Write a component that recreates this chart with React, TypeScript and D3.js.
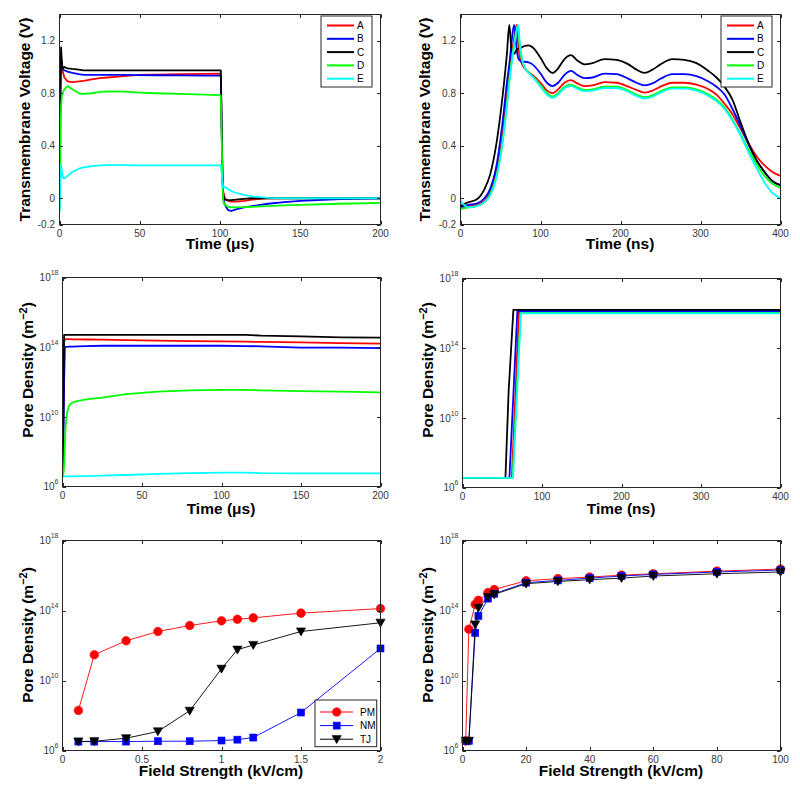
import React from "react";
import * as d3 from "d3";

const FONT = "'Liberation Sans', Arial, Helvetica, sans-serif";
const AXIS_COLOR = "#262626";
const TICK_TEXT = "#383838";

// ---------- shared series ----------
const seriesNames = ["A", "B", "C", "D", "E"];
const seriesColors = ["#ff0000", "#0000ff", "#000000", "#00ff00", "#00ffff"];

// ---------- Panel 1: transmembrane voltage, time in µs ----------
const timeUs = [0, 0.5, 1, 1.5, 2, 3, 5, 8, 12, 15, 20, 25, 30, 40, 50, 60, 75, 90, 100, 100.5, 101, 101.5, 102, 103, 105, 107, 110, 115, 120, 125, 130, 140, 150, 175, 200];
const voltUsA = [0, 0.7, 1.0, 1.04, 0.97, 0.92, 0.89, 0.885, 0.89, 0.895, 0.905, 0.915, 0.92, 0.93, 0.94, 0.942, 0.945, 0.948, 0.95, 0.95, 0.55, 0.2, 0.05, 0.0, -0.02, -0.025, -0.025, -0.02, -0.01, -0.005, 0, 0, 0, 0, 0];
const voltUsB = [0, 0.8, 1.08, 1.0, 0.98, 0.975, 0.965, 0.955, 0.945, 0.94, 0.94, 0.94, 0.94, 0.94, 0.938, 0.937, 0.936, 0.935, 0.935, 0.935, 0.55, 0.15, 0.0, -0.05, -0.09, -0.097, -0.085, -0.07, -0.06, -0.05, -0.042, -0.03, -0.02, -0.006, 0];
const voltUsC = [0, 0.9, 1.15, 1.02, 0.99, 1.0, 0.99, 0.985, 0.98, 0.975, 0.975, 0.975, 0.975, 0.975, 0.975, 0.975, 0.975, 0.975, 0.975, 0.975, 0.6, 0.2, 0.03, -0.01, -0.015, -0.015, -0.01, -0.005, 0, 0, 0, 0, 0, 0, 0];
const voltUsD = [-0.1, 0.3, 0.7, 0.78, 0.8, 0.83, 0.855, 0.83, 0.8, 0.795, 0.8, 0.81, 0.815, 0.812, 0.805, 0.8, 0.795, 0.79, 0.785, 0.78, 0.5, 0.15, -0.02, -0.05, -0.065, -0.07, -0.07, -0.067, -0.065, -0.062, -0.06, -0.055, -0.05, -0.042, -0.035];
const voltUsE = [-0.1, 0.1, 0.25, 0.2, 0.16, 0.15, 0.17, 0.2, 0.225, 0.235, 0.245, 0.25, 0.252, 0.252, 0.251, 0.25, 0.25, 0.25, 0.25, 0.25, 0.2, 0.12, 0.08, 0.085, 0.07, 0.055, 0.04, 0.025, 0.015, 0.008, 0.003, 0, 0, 0, 0];

// ---------- Panel 2: transmembrane voltage, time in ns ----------
const timeNs = [0, 10, 20, 30, 37, 45, 53, 58, 61, 64, 67, 70, 72, 74, 77, 80, 85, 90, 100, 108, 115, 122, 130, 138, 146, 155, 165, 180, 195, 210, 220, 230, 240, 250, 265, 280, 295, 310, 320, 330, 340, 350, 360, 370, 380, 390, 400];
const voltNsA = [-0.08, -0.06, -0.05, -0.02, 0.05, 0.2, 0.5, 0.78, 0.95, 1.1, 1.22, 1.32, 1.18, 1.08, 1.02, 0.99, 0.96, 0.94, 0.88, 0.82, 0.8, 0.83, 0.88, 0.9, 0.875, 0.855, 0.86, 0.885, 0.88, 0.85, 0.825, 0.805, 0.82, 0.85, 0.88, 0.88, 0.865, 0.83, 0.79, 0.72, 0.64, 0.53, 0.42, 0.32, 0.25, 0.2, 0.17];
const voltNsB = [-0.07, -0.05, -0.04, 0.0, 0.07, 0.25, 0.6, 0.88, 1.02, 1.2, 1.32, 1.15, 1.07, 1.05, 1.04, 1.04, 1.035, 1.02, 0.95, 0.88, 0.855, 0.88, 0.94, 0.97, 0.94, 0.915, 0.92, 0.95, 0.945, 0.91, 0.88, 0.86, 0.875, 0.91, 0.945, 0.945, 0.93, 0.89, 0.85, 0.79, 0.68, 0.55, 0.41, 0.29, 0.2, 0.13, 0.1];
const voltNsC = [-0.06, -0.03, -0.01, 0.07, 0.18, 0.42, 0.8, 1.1, 1.32, 1.12, 1.1, 1.13, 1.14, 1.14, 1.15, 1.16, 1.165, 1.15, 1.07, 0.99, 0.955, 0.99, 1.06, 1.09, 1.05, 1.02, 1.03, 1.06, 1.055, 1.02, 0.98, 0.955, 0.98, 1.02, 1.06, 1.055, 1.03, 0.97, 0.92, 0.85, 0.75, 0.58, 0.42, 0.29, 0.2, 0.13, 0.1];
const voltNsD = [-0.08, -0.07, -0.06, -0.03, 0.03, 0.17, 0.45, 0.72, 0.9, 1.05, 1.18, 1.28, 1.32, 1.15, 1.05, 1.0, 0.96, 0.93, 0.86, 0.8, 0.775, 0.8, 0.85, 0.865, 0.845, 0.825, 0.83, 0.85, 0.85, 0.82, 0.79, 0.77, 0.785, 0.815, 0.845, 0.845, 0.83, 0.79, 0.75, 0.69, 0.6, 0.49, 0.37, 0.26, 0.17, 0.11, 0.08];
const voltNsE = [-0.02, -0.07, -0.06, -0.03, 0.02, 0.16, 0.44, 0.7, 0.88, 1.03, 1.16, 1.27, 1.32, 1.2, 1.06, 1.0, 0.955, 0.925, 0.85, 0.79, 0.765, 0.79, 0.84, 0.855, 0.835, 0.815, 0.82, 0.84, 0.84, 0.81, 0.78, 0.76, 0.775, 0.805, 0.835, 0.835, 0.82, 0.78, 0.74, 0.68, 0.59, 0.48, 0.35, 0.23, 0.12, 0.04, 0.0];

// ---------- Panel 3: pore density (log10 m^-2), time in µs ----------
const timeUsPore = [0, 0.5, 1, 1.5, 2, 3, 4, 5, 7, 10, 15, 25, 40, 60, 80, 100, 115, 125, 150, 175, 200];
const poreUsA = [6.55, 9, 14.3, 14.46, 14.46, 14.46, 14.46, 14.46, 14.45, 14.45, 14.44, 14.43, 14.4, 14.37, 14.35, 14.33, 14.32, 14.3, 14.27, 14.23, 14.2];
const poreUsB = [6.55, 8, 12, 14.0, 14.02, 14.02, 14.03, 14.03, 14.03, 14.04, 14.06, 14.08, 14.08, 14.08, 14.08, 14.08, 14.06, 14.05, 13.97, 13.97, 13.95];
const poreUsC = [6.55, 10, 14.71, 14.71, 14.71, 14.71, 14.71, 14.71, 14.71, 14.71, 14.71, 14.71, 14.71, 14.71, 14.71, 14.71, 14.71, 14.66, 14.62, 14.56, 14.55];
const poreUsD = [6.55, 6.6, 7.2, 8.5, 9.5, 10.3, 10.6, 10.75, 10.85, 10.92, 11.0, 11.1, 11.3, 11.45, 11.52, 11.55, 11.55, 11.52, 11.48, 11.45, 11.4];
const poreUsE = [6.58, 6.58, 6.58, 6.58, 6.58, 6.58, 6.58, 6.58, 6.58, 6.59, 6.6, 6.62, 6.66, 6.72, 6.77, 6.8, 6.8, 6.77, 6.75, 6.75, 6.75];

// ---------- Panel 4: pore density (log10 m^-2), time in ns ----------
const timeNsPoreA = [0, 62, 71, 400];
const timeNsPoreB = [0, 59, 69, 400];
const timeNsPoreC = [0, 54, 58, 64, 400];
const timeNsPoreD = [0, 63, 73, 400];
const timeNsPoreE = [0, 63.5, 73.5, 400];
const poreNsA = [6.55, 6.55, 16.05, 16.05];
const poreNsB = [6.55, 6.55, 16.12, 16.12];
const poreNsC = [6.55, 6.55, 11.5, 16.2, 16.2];
const poreNsD = [6.55, 6.55, 16.03, 16.03];
const poreNsE = [6.55, 6.55, 16.0, 16.0];

// ---------- Panel 5: pore density vs low field strength ----------
const markerNames = ["PM", "NM", "TJ"];
const markerColors = ["#ff0000", "#0000ff", "#000000"];
const fieldLow = [0.1, 0.2, 0.4, 0.6, 0.8, 1.0, 1.1, 1.2, 1.5, 2.0];
const poreLowPM = [8.29, 11.47, 12.27, 12.8, 13.14, 13.41, 13.5, 13.58, 13.85, 14.11];
const poreLowNM = [6.51, 6.51, 6.51, 6.53, 6.53, 6.57, 6.62, 6.74, 8.17, 11.83];
const poreLowTJ = [6.51, 6.53, 6.7, 7.09, 8.27, 10.67, 11.76, 12.03, 12.8, 13.3];

// ---------- Panel 6: pore density vs high field strength ----------
const fieldHigh = [1, 2, 4, 5, 8, 10, 20, 30, 40, 50, 60, 80, 100];
const poreHighPM = [6.55, 12.93, 14.35, 14.58, 15.02, 15.2, 15.7, 15.82, 15.91, 16.02, 16.1, 16.25, 16.37];
const poreHighNM = [6.55, 6.55, 12.72, 13.69, 14.68, 14.96, 15.59, 15.72, 15.85, 15.97, 16.06, 16.2, 16.31];
const poreHighTJ = [6.55, 6.55, 13.2, 14.15, 14.77, 14.92, 15.53, 15.66, 15.76, 15.85, 15.97, 16.1, 16.2];

// ---------- ticks ----------
const voltTicks = [-0.2, 0, 0.4, 0.8, 1.2];
const usTicks = [0, 50, 100, 150, 200];
const nsTicks = [0, 100, 200, 300, 400];
const logTicks = [1e6, 1e10, 1e14, 1e18];
const lowFieldTicks = [0, 0.5, 1, 1.5, 2];
const highFieldTicks = [0, 20, 40, 60, 80, 100];

type Box = { l: number; r: number; t: number; b: number };

const boxes: Box[] = [
  { l: 59.5, r: 380.5, t: 14.5, b: 224.5 },
  { l: 460.5, r: 780.5, t: 14.5, b: 224.5 },
  { l: 62.5, r: 380.5, t: 277.5, b: 486.5 },
  { l: 462.5, r: 780.5, t: 278.5, b: 487.5 },
  { l: 62.5, r: 380.5, t: 540.5, b: 750.5 },
  { l: 462.5, r: 780.5, t: 540.5, b: 750.5 },
];

const TL = 3.5;

function fmtNum(v: number) {
  return String(v);
}

function Frame(props: {
  box: Box;
  x: any;
  y: any;
  xTicks: number[];
  yTicks: number[];
  yLog?: boolean;
}) {
  const { box, x, y, xTicks, yTicks, yLog } = props;
  return (
    <g fontFamily={FONT}>
      <rect x={box.l} y={box.t} width={box.r - box.l} height={box.b - box.t} fill="none" stroke={AXIS_COLOR} strokeWidth={1} />
      {xTicks.map((t) => {
        const px = Math.round(x(t)) + 0.5;
        return (
          <g key={"x" + t}>
            <line x1={px} x2={px} y1={box.b} y2={box.b - TL} stroke={AXIS_COLOR} />
            <line x1={px} x2={px} y1={box.t} y2={box.t + TL} stroke={AXIS_COLOR} />
            <text x={x(t)} y={box.b + 12.5} textAnchor="middle" fontSize={10} fill={TICK_TEXT}>
              {fmtNum(t)}
            </text>
          </g>
        );
      })}
      {yTicks.map((t) => {
        const py = Math.round(y(t)) + 0.5;
        return (
          <g key={"y" + t}>
            <line x1={box.l} x2={box.l + TL} y1={py} y2={py} stroke={AXIS_COLOR} />
            <line x1={box.r} x2={box.r - TL} y1={py} y2={py} stroke={AXIS_COLOR} />
            {yLog ? (
              <text x={box.l - 4} y={y(t) + 3.8} textAnchor="end" fontSize={10} fill={TICK_TEXT}>
                10
                <tspan dy={-6} fontSize={7}>
                  {Math.round(Math.log10(t))}
                </tspan>
              </text>
            ) : (
              <text x={box.l - 4.5} y={y(t) + 3.6} textAnchor="end" fontSize={10} fill={TICK_TEXT}>
                {fmtNum(t)}
              </text>
            )}
          </g>
        );
      })}
    </g>
  );
}

function YLabel(props: { cx: number; cy: number; pore?: boolean; text?: string }) {
  const { cx, cy, pore, text } = props;
  return (
    <text
      transform={`translate(${cx},${cy}) rotate(-90)`}
      dy="0.35em"
      textAnchor="middle"
      fontFamily={FONT}
      fontWeight="bold"
      fontSize={15.5}
      fill="#000"
    >
      {pore ? (
        <>
          Pore Density (m
          <tspan dy={-6} fontSize={11}>
            −2
          </tspan>
          <tspan dy={6}>)</tspan>
        </>
      ) : (
        text
      )}
    </text>
  );
}

function XLabel(props: { cx: number; y: number; text: string }) {
  return (
    <text x={props.cx} y={props.y} textAnchor="middle" fontFamily={FONT} fontWeight="bold" fontSize={15.5} fill="#000">
      {props.text}
    </text>
  );
}

function LineLegend(props: { box: Box }) {
  const lx = props.box.r - 59.5;
  const ly = props.box.t + 1.5;
  return (
    <g fontFamily={FONT}>
      <rect x={lx} y={ly} width={51} height={71} fill="#fff" stroke={AXIS_COLOR} strokeWidth={1} />
      {seriesNames.map((n, i) => {
        const yy = ly + 9.5 + i * 13.3;
        return (
          <g key={n}>
            <line x1={lx + 6} x2={lx + 33} y1={yy} y2={yy} stroke={seriesColors[i]} strokeWidth={2} />
            <text x={lx + 36} y={yy + 3.6} fontSize={10} fill="#000">
              {n}
            </text>
          </g>
        );
      })}
    </g>
  );
}

function Marker(props: { kind: number; cx: number; cy: number; color: string }) {
  const { kind, cx, cy, color } = props;
  if (kind === 0) return <circle cx={cx} cy={cy} r={4.3} fill={color} stroke={color} strokeWidth={0.6} />;
  if (kind === 1) return <rect x={cx - 3.5} y={cy - 3.5} width={7} height={7} fill={color} stroke={color} strokeWidth={0.6} />;
  return (
    <path
      d={`M${cx - 4.6},${cy - 3.6} L${cx + 4.6},${cy - 3.6} L${cx},${cy + 4.4} Z`}
      fill={color}
      stroke={color}
      strokeWidth={0.6}
    />
  );
}

function MarkerLegend(props: { box: Box }) {
  const lx = props.box.r - 65.5;
  const ly = props.box.b - 50.5;
  return (
    <g fontFamily={FONT}>
      <rect x={lx} y={ly} width={61.7} height={46.7} fill="#fff" stroke={AXIS_COLOR} strokeWidth={1} />
      {markerNames.map((n, i) => {
        const yy = ly + 12 + i * 13.6;
        return (
          <g key={n}>
            <line x1={lx + 5} x2={lx + 38} y1={yy} y2={yy} stroke={markerColors[i]} strokeWidth={1} />
            <Marker kind={i} cx={lx + 21.7} cy={yy} color={markerColors[i]} />
            <text x={lx + 45} y={yy + 3.6} fontSize={10} fill="#000">
              {n}
            </text>
          </g>
        );
      })}
    </g>
  );
}

function ClipDef(props: { id: string; box: Box }) {
  const b = props.box;
  return (
    <clipPath id={props.id}>
      <rect x={b.l} y={b.t} width={b.r - b.l} height={b.b - b.t} />
    </clipPath>
  );
}

export default function App() {
  // Panel 1
  const b1 = boxes[0];
  const x1 = d3.scaleLinear().domain([0, 200]).range([b1.l, b1.r]);
  const y1 = d3.scaleLinear().domain([-0.2, 1.4]).range([b1.b, b1.t]);
  const p1Series = [voltUsA, voltUsB, voltUsC, voltUsD, voltUsE];
  const line1 = d3.line<[number, number]>().x((d) => x1(d[0])).y((d) => y1(d[1])).curve(d3.curveLinear);

  // Panel 2
  const b2 = boxes[1];
  const x2 = d3.scaleLinear().domain([0, 400]).range([b2.l, b2.r]);
  const y2 = d3.scaleLinear().domain([-0.2, 1.4]).range([b2.b, b2.t]);
  const p2Series = [voltNsA, voltNsB, voltNsC, voltNsD, voltNsE];
  const line2 = d3.line<[number, number]>().x((d) => x2(d[0])).y((d) => y2(d[1])).curve(d3.curveMonotoneX);

  // Panel 3
  const b3 = boxes[2];
  const x3 = d3.scaleLinear().domain([0, 200]).range([b3.l, b3.r]);
  const y3 = d3.scaleLog().domain([1e6, 1e18]).range([b3.b, b3.t]);
  const p3Series = [poreUsA, poreUsB, poreUsC, poreUsD, poreUsE];
  const line3 = d3.line<[number, number]>().x((d) => x3(d[0])).y((d) => y3(Math.pow(10, d[1])));

  // Panel 4
  const b4 = boxes[3];
  const x4 = d3.scaleLinear().domain([0, 400]).range([b4.l, b4.r]);
  const y4 = d3.scaleLog().domain([1e6, 1e18]).range([b4.b, b4.t]);
  const p4Times = [timeNsPoreA, timeNsPoreB, timeNsPoreC, timeNsPoreD, timeNsPoreE];
  const p4Series = [poreNsA, poreNsB, poreNsC, poreNsD, poreNsE];
  const line4 = d3.line<[number, number]>().x((d) => x4(d[0])).y((d) => y4(Math.pow(10, d[1])));

  // Panel 5
  const b5 = boxes[4];
  const x5 = d3.scaleLinear().domain([0, 2]).range([b5.l, b5.r]);
  const y5 = d3.scaleLog().domain([1e6, 1e18]).range([b5.b, b5.t]);
  const p5Series = [poreLowPM, poreLowNM, poreLowTJ];
  const line5 = d3.line<[number, number]>().x((d) => x5(d[0])).y((d) => y5(Math.pow(10, d[1])));

  // Panel 6
  const b6 = boxes[5];
  const x6 = d3.scaleLinear().domain([0, 100]).range([b6.l, b6.r]);
  const y6 = d3.scaleLog().domain([1e6, 1e18]).range([b6.b, b6.t]);
  const p6Series = [poreHighPM, poreHighNM, poreHighTJ];
  const line6 = d3.line<[number, number]>().x((d) => x6(d[0])).y((d) => y6(Math.pow(10, d[1])));

  const zip = (xs: number[], ys: number[]) => xs.map((v, i) => [v, ys[i]] as [number, number]);

  return (
    <svg
      width={800}
      height={797}
      viewBox="0 0 800 797"
      style={{ position: "absolute", left: 0, top: 0, background: "#fff" }}
    >
      <defs>
        {boxes.map((b, i) => (
          <ClipDef key={i} id={"clip" + i} box={b} />
        ))}
      </defs>
      <rect x={0} y={0} width={800} height={797} fill="#fff" />

      {/* Panel 1 */}
      <g clipPath="url(#clip0)">
        {p1Series.map((s, i) => (
          <path key={i} d={line1(zip(timeUs, s)) || ""} fill="none" stroke={seriesColors[i]} strokeWidth={1.8} strokeLinejoin="round" />
        ))}
      </g>
      <Frame box={b1} x={x1} y={y1} xTicks={usTicks} yTicks={voltTicks} />
      <LineLegend box={b1} />
      <YLabel cx={25} cy={119.5} text="Transmembrane Voltage (V)" />
      <XLabel cx={220} y={248.5} text="Time (μs)" />

      {/* Panel 2 */}
      <g clipPath="url(#clip1)">
        {p2Series.map((s, i) => (
          <path key={i} d={line2(zip(timeNs, s)) || ""} fill="none" stroke={seriesColors[i]} strokeWidth={1.8} strokeLinejoin="round" />
        ))}
      </g>
      <Frame box={b2} x={x2} y={y2} xTicks={nsTicks} yTicks={voltTicks} />
      <LineLegend box={b2} />
      <YLabel cx={425} cy={119.5} text="Transmembrane Voltage (V)" />
      <XLabel cx={620} y={248.5} text="Time (ns)" />

      {/* Panel 3 */}
      <g clipPath="url(#clip2)">
        {p3Series.map((s, i) => (
          <path key={i} d={line3(zip(timeUsPore, s)) || ""} fill="none" stroke={seriesColors[i]} strokeWidth={1.8} strokeLinejoin="round" />
        ))}
      </g>
      <Frame box={b3} x={x3} y={y3} xTicks={usTicks} yTicks={logTicks} yLog />
      <YLabel cx={28} cy={370} pore />
      <XLabel cx={221} y={514} text="Time (μs)" />

      {/* Panel 4 */}
      <g clipPath="url(#clip3)">
        {p4Series.map((s, i) => (
          <path key={i} d={line4(zip(p4Times[i], s)) || ""} fill="none" stroke={seriesColors[i]} strokeWidth={1.8} strokeLinejoin="round" />
        ))}
      </g>
      <Frame box={b4} x={x4} y={y4} xTicks={nsTicks} yTicks={logTicks} yLog />
      <YLabel cx={428} cy={370} pore />
      <XLabel cx={621} y={514} text="Time (ns)" />

      {/* Panel 5 */}
      <g>
        {p5Series.map((s, i) => (
          <g key={i}>
            <path d={line5(zip(fieldLow, s)) || ""} fill="none" stroke={markerColors[i]} strokeWidth={0.9} />
            {fieldLow.map((f, j) => (
              <Marker key={j} kind={i} cx={x5(f)} cy={y5(Math.pow(10, s[j]))} color={markerColors[i]} />
            ))}
          </g>
        ))}
      </g>
      <Frame box={b5} x={x5} y={y5} xTicks={lowFieldTicks} yTicks={logTicks} yLog />
      <MarkerLegend box={b5} />
      <YLabel cx={28} cy={635} pore />
      <XLabel cx={221} y={776} text="Field Strength (kV/cm)" />

      {/* Panel 6 */}
      <g>
        {p6Series.map((s, i) => (
          <g key={i}>
            <path d={line6(zip(fieldHigh, s)) || ""} fill="none" stroke={markerColors[i]} strokeWidth={0.9} />
            {fieldHigh.map((f, j) => (
              <Marker key={j} kind={i} cx={x6(f)} cy={y6(Math.pow(10, s[j]))} color={markerColors[i]} />
            ))}
          </g>
        ))}
      </g>
      <Frame box={b6} x={x6} y={y6} xTicks={highFieldTicks} yTicks={logTicks} yLog />
      <YLabel cx={428} cy={635} pore />
      <XLabel cx={621} y={776} text="Field Strength (kV/cm)" />
    </svg>
  );
}
